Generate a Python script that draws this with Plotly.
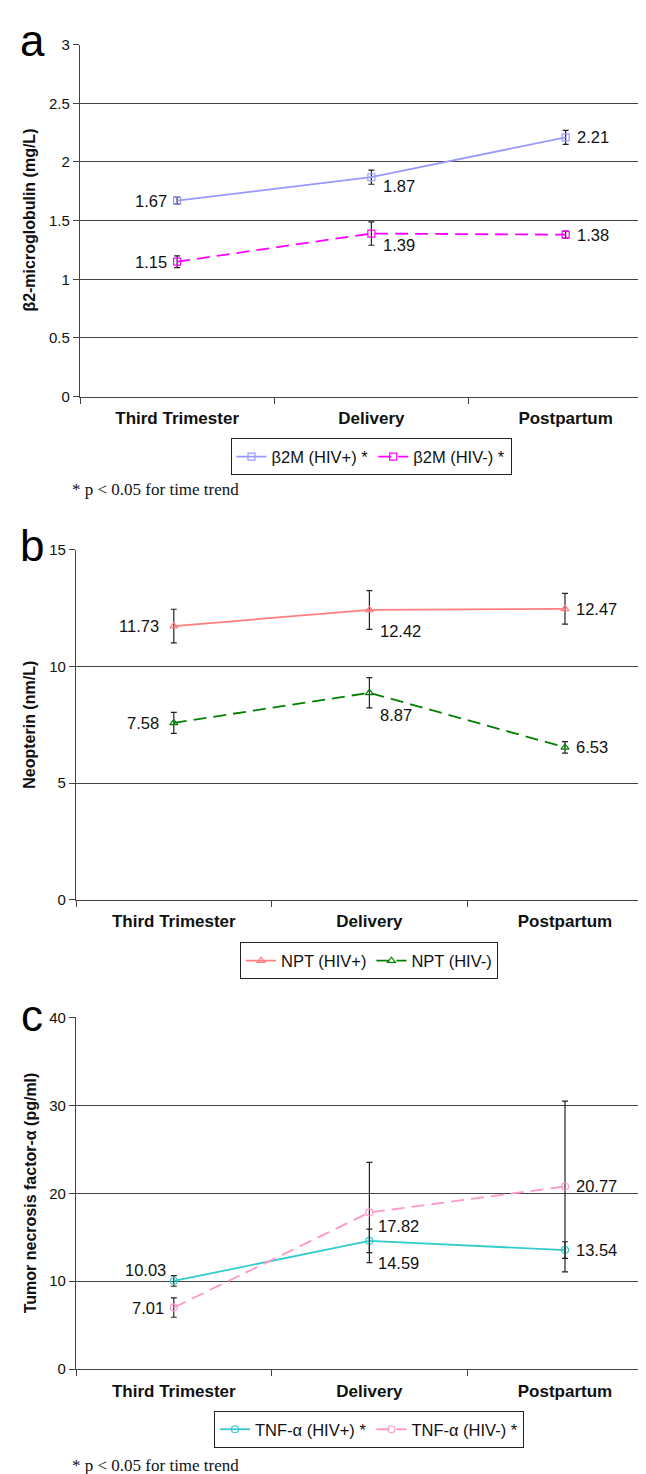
import plotly.graph_objects as go

# ---------------- data ----------------
categories = ["Third Trimester", "Delivery", "Postpartum"]

b2m_pos = [1.67, 1.87, 2.21]
b2m_pos_err = [0.03, 0.06, 0.06]
b2m_neg = [1.15, 1.39, 1.38]
b2m_neg_err = [0.05, 0.10, 0.03]

npt_pos = [11.73, 12.42, 12.47]
npt_pos_err = [0.72, 0.83, 0.66]
npt_neg = [7.58, 8.87, 6.53]
npt_neg_err = [0.45, 0.65, 0.25]

tnf_pos = [10.03, 14.59, 13.54]
tnf_pos_err = [0.6, 1.33, 0.95]
tnf_neg = [7.01, 17.82, 20.77]
tnf_neg_err = [1.1, 5.7, 9.7]

W, H = 646, 1474
FONT = "Liberation Sans, Arial, sans-serif"
SERIF = "Liberation Serif, Times New Roman, serif"

def py(px):
    return 1 - px / H

def px_x(px):
    return px / W

xpos = list(range(len(categories)))

# label placement styles: (xanchor, dx px, dy px downward)
L = ("right", -8, 0)
R = ("left", 9, 0)

fig = go.Figure()

panels = [
    dict(ax="", leg="legend", pos=b2m_pos, pos_err=b2m_pos_err, neg=b2m_neg, neg_err=b2m_neg_err,
         names=["β2M (HIV+) *", "β2M (HIV-) *"], colors=["#9999FF", "#FF00FF"], symbol="square-open",
         lp_pos=[L, ("left", 10, 9), R], lp_neg=[L, ("left", 10, 11), R]),
    dict(ax="2", leg="legend2", pos=npt_pos, pos_err=npt_pos_err, neg=npt_neg, neg_err=npt_neg_err,
         names=["NPT (HIV+)", "NPT (HIV-)"], colors=["#FF7F7F", "#008000"], symbol="triangle-up-open",
         lp_pos=[("right", -13, 0), ("left", 9, 21), R], lp_neg=[("right", -13, 0), ("left", 9, 22), R]),
    dict(ax="3", leg="legend3", pos=tnf_pos, pos_err=tnf_pos_err, neg=tnf_neg, neg_err=tnf_neg_err,
         names=["TNF-α (HIV+) *", "TNF-α (HIV-) *"], colors=["#33CCCC", "#FF99CC"], symbol="circle-open",
         lp_pos=[("right", -6, -11), ("left", 7, 22), R], lp_neg=[L, ("left", 7, 14), R]),
]

for p in panels:
    xa = "x" + p["ax"]
    ya = "y" + p["ax"]
    for vals, errs, name, color, dash in [
        (p["pos"], p["pos_err"], p["names"][0], p["colors"][0], "solid"),
        (p["neg"], p["neg_err"], p["names"][1], p["colors"][1], "13px,7px"),
    ]:
        fig.add_trace(go.Scatter(
            x=xpos, y=vals, name=name, mode="lines+markers",
            xaxis=xa, yaxis=ya, legend=p["leg"],
            line=dict(color=color, width=1.8, dash=dash),
            marker=dict(symbol=p["symbol"], size=7, color=color, line=dict(width=1.2, color=color)),
            error_y=dict(type="data", array=errs, visible=True, color="#222222", thickness=1.2, width=3),
        ))
    for vals, lps in [(p["pos"], p["lp_pos"]), (p["neg"], p["lp_neg"])]:
        for xi, v, (anchor, dx, dy) in zip(xpos, vals, lps):
            fig.add_annotation(
                x=xi, y=v, xref=xa, yref=ya, text=f"{v:.2f}", showarrow=False,
                xanchor=anchor, yanchor="middle", xshift=dx, yshift=-dy,
                font=dict(family=FONT, size=16.5, color="#111111"),
            )

common_x = dict(
    range=[-0.5, 2.455], tickmode="array", tickvals=xpos, ticktext=categories,
    showline=True, linecolor="#444444", linewidth=1.2, showgrid=False, zeroline=False,
    ticks="", ticklabelstandoff=6,
    tickfont=dict(family=FONT, size=17, color="#111111", weight="bold"),
    minor=dict(tickmode="array", tickvals=[-0.5, 0.5, 1.5], ticks="outside", ticklen=6,
               tickcolor="#444444", showgrid=False),
    fixedrange=True,
)
common_y = dict(
    showline=True, linecolor="#444444", linewidth=1.2, showgrid=True, gridcolor="#444444",
    gridwidth=1.2, zeroline=False, ticks="outside", ticklen=6, tickcolor="#444444",
    tickfont=dict(family=FONT, size=15, color="#111111"), tickmode="linear", tick0=0,
)

fig.update_layout(
    width=W, height=H, margin=dict(l=0, r=0, t=0, b=0),
    paper_bgcolor="white", plot_bgcolor="white",
    font=dict(family=FONT, color="#111111"),
    xaxis=dict(common_x, domain=[px_x(72), 1], anchor="y"),
    yaxis=dict(common_y, domain=[py(384), py(28)], range=[0, 3], dtick=0.5, anchor="x"),
    xaxis2=dict(common_x, domain=[px_x(68), 1], anchor="y2"),
    yaxis2=dict(common_y, domain=[py(893), py(539)], range=[0, 15], dtick=5, anchor="x2"),
    xaxis3=dict(common_x, domain=[px_x(68), 1], anchor="y3"),
    yaxis3=dict(common_y, domain=[py(1368), py(1012)], range=[0, 40], dtick=10, anchor="x3"),
    showlegend=True,
)

leg_common = dict(orientation="h", bordercolor="#222222", borderwidth=1, bgcolor="white",
                  font=dict(family=FONT, size=16.5, color="#111111"),
                  xanchor="center", yanchor="middle", itemwidth=30, tracegroupgap=0,
                  traceorder="normal")
fig.update_layout(
    legend=dict(leg_common, x=px_x(363), y=py(445)),
    legend2=dict(leg_common, x=px_x(361), y=py(955)),
    legend3=dict(leg_common, x=px_x(361), y=py(1429)),
)

# y-axis titles
ytitles = [("β2-microglobulin (mg/L)", 206), ("Neopterin (nm/L)", 716), ("Tumor necrosis factor-α (pg/ml)", 1190)]
for t, yc in ytitles:
    fig.add_annotation(text="<b>" + t + "</b>", xref="paper", yref="paper", x=px_x(22), y=py(yc),
                       textangle=-90, showarrow=False, font=dict(family=FONT, size=16, color="#111111"),
                       xanchor="center", yanchor="middle")

# panel letters
for letter, yc in [("a", 24), ("b", 535), ("c", 1010)]:
    fig.add_annotation(text=letter, xref="paper", yref="paper", x=px_x(24), y=py(yc),
                       showarrow=False, font=dict(family=FONT, size=44, color="#000000"),
                       xanchor="center", yanchor="middle")

# footnotes
for yc in [478, 1465]:
    fig.add_annotation(text="* p < 0.05 for time trend", xref="paper", yref="paper", x=px_x(62), y=py(yc),
                       showarrow=False, font=dict(family=SERIF, size=17, color="#111111"),
                       xanchor="left", yanchor="middle")

fig.write_html("out.html")
